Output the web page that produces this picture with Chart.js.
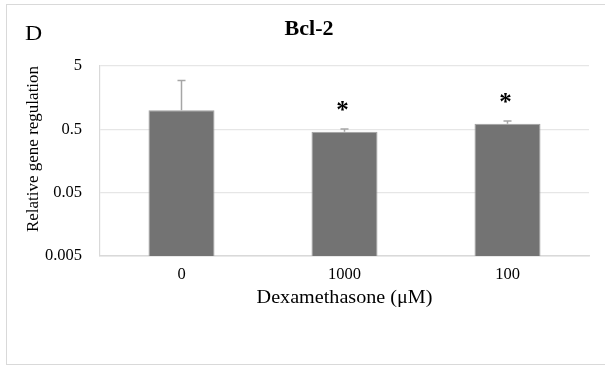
<!DOCTYPE html>
<html>
<head>
<meta charset="utf-8">
<script src="https://cdn.jsdelivr.net/npm/chart.js@4"></script>
<style>
  body { margin: 0; background: #fff; }
  #wrap { position: relative; width: 605px; height: 365px; overflow: hidden; }
  #frame { position: absolute; left: 6px; top: 4px; width: 620px; height: 359px; border: 1px solid #d9d9d9; }
  #chart { position: absolute; left: 0; top: 0; }
</style>
</head>
<body>
<div id="wrap">
  <div id="frame"></div>
  <canvas id="chart" width="605" height="365"></canvas>
</div>
<script>
const categories = ['0', '1000', '100'];
const means = [1.0, 0.46, 0.615];
const errors = [1.94, 0.045, 0.06];
const significant = [false, true, true];
const yTicks = [0.005, 0.05, 0.5, 5];

const serif = '"Liberation Serif", "Times New Roman", serif';

// upward error bars and asterisks, placed with the chart's own scales
const errorBars = {
    id: 'errorBars',
    afterDatasetsDraw(chart) {
        const ctx = chart.ctx;
        const y = chart.scales.y;
        const bars = chart.getDatasetMeta(0).data;
        ctx.save();
        bars.forEach((bar, i) => {
            const top = y.getPixelForValue(means[i] + errors[i]);
            ctx.strokeStyle = '#a6a6a6';
            ctx.lineWidth = 1.5;
            ctx.beginPath();
            ctx.moveTo(bar.x, bar.y);
            ctx.lineTo(bar.x, top);
            ctx.moveTo(bar.x - 4, top);
            ctx.lineTo(bar.x + 4, top);
            ctx.stroke();
            if (significant[i]) {
                ctx.font = 'bold 25px ' + serif;
                ctx.fillStyle = '#000';
                ctx.textAlign = 'center';
                ctx.textBaseline = 'alphabetic';
                const m = ctx.measureText('*');
                const mid = (m.actualBoundingBoxAscent - m.actualBoundingBoxDescent) / 2;
                ctx.fillText('*', bar.x - 2, top - 23 + mid);
            }
        });
        ctx.restore();
    }
};

// draws text slightly widened, like the reference figure
function wideText(ctx, text, x, y, sx) {
    ctx.save();
    ctx.translate(x, y);
    ctx.scale(sx, 1);
    ctx.fillText(text, 0, 0);
    ctx.restore();
}

const labels = {
    id: 'labels',
    afterDraw(chart) {
        const ctx = chart.ctx;
        const area = chart.chartArea;
        ctx.save();
        ctx.fillStyle = '#000';
        ctx.textBaseline = 'alphabetic';

        ctx.font = '22px ' + serif;
        ctx.textAlign = 'left';
        wideText(ctx, 'D', 25, 40, 1.08);

        ctx.font = 'bold 21px ' + serif;
        ctx.textAlign = 'center';
        wideText(ctx, 'Bcl-2', 309, 35, 1.05);

        ctx.font = '19px ' + serif;
        wideText(ctx, 'Dexamethasone (\u03bcM)', (area.left + area.right) / 2, 303, 1.06);

        ctx.translate(38, 149);
        ctx.rotate(-Math.PI / 2);
        ctx.font = '17px ' + serif;
        ctx.fillText('Relative gene regulation', 0, 0);
        ctx.restore();
    }
};

new Chart(document.getElementById('chart'), {
    type: 'bar',
    data: {
        labels: categories,
        datasets: [{
            data: means,
            backgroundColor: '#737373',
            borderColor: '#a0a0a0',
            borderWidth: 1,
            categoryPercentage: 1,
            barPercentage: 0.405
        }]
    },
    options: {
        responsive: false,
        animation: false,
        layout: { padding: { top: 66, right: 16, bottom: 58, left: 0 } },
        plugins: {
            legend: { display: false },
            tooltip: { enabled: false },
            title: { display: false }
        },
        scales: {
            x: {
                grid: { display: false, drawTicks: false },
                border: { color: '#d9d9d9', width: 1.5 },
                ticks: { color: '#000', padding: 9, font: { family: serif, size: 16.5 } },
                afterFit(s) { s.height = 51; }
            },
            y: {
                type: 'logarithmic',
                min: 0.005,
                max: 5,
                afterBuildTicks(s) { s.ticks = yTicks.map(v => ({ value: v })); },
                grid: { color: '#e6e6e6', drawTicks: false, lineWidth: 1.2 },
                border: { display: true, color: '#d9d9d9', width: 1.2 },
                ticks: {
                    color: '#000',
                    padding: 18,
                    font: { family: serif, size: 16.5 },
                    callback: v => String(v)
                },
                afterFit(s) { s.width = 100; }
            }
        }
    },
    plugins: [errorBars, labels]
});
</script>
</body>
</html>
